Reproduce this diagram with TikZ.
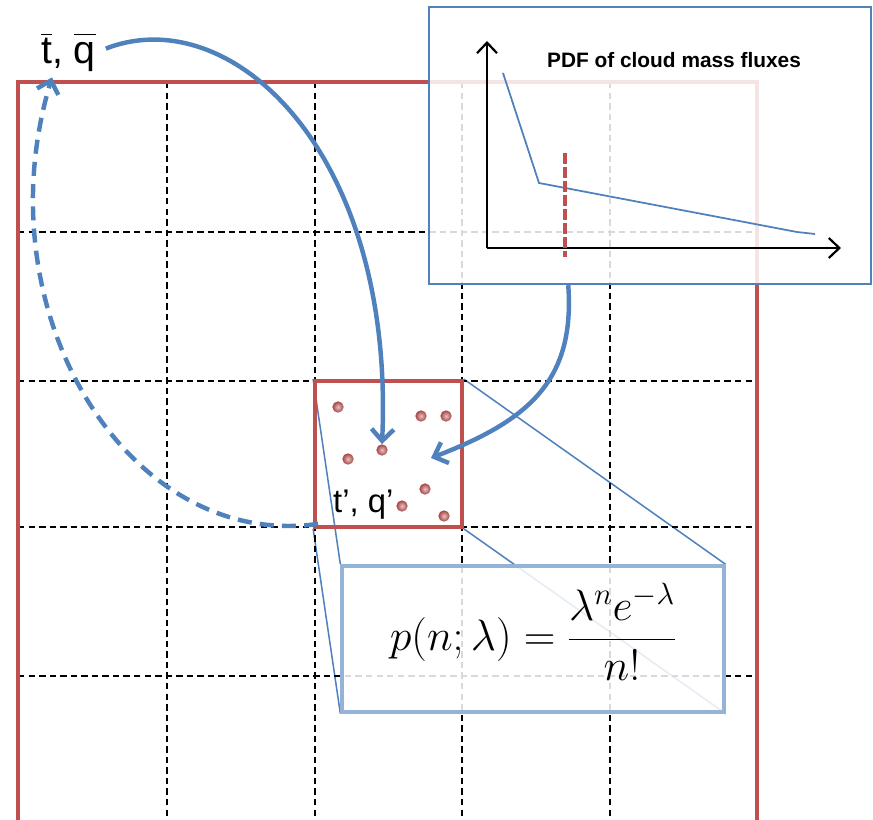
\RequirePackage{fix-cm}
\documentclass[tikz,border=0pt]{standalone}
\usepackage{amsmath}
\usepackage[no-math]{fontspec}
\setmainfont{Liberation Sans}
\usetikzlibrary{fit, calc, arrows.meta, backgrounds}
\definecolor{officeblue}{HTML}{4F81BD}
\definecolor{officered}{HTML}{C0504D}
\definecolor{paleblue}{HTML}{95B3D7}
\newcommand{\avg}[1]{\(\overline{\mbox{#1}\vphantom{\mbox{t}}}\)}

\begin{document}
\begin{tikzpicture}[x=0.03cm, y=-0.03cm,
        gridline/.style={draw=black, line width=1.9pt, dash pattern=on 5.5pt off 3.5pt},
        frame/.style={draw=officered, line width=3.4pt},
        cellbox/.style={draw=officered, line width=3.2pt, inner sep=0pt},
        drop/.style={circle, inner sep=0pt, minimum size=0.34cm, inner color=officered!35!white, outer color=officered!85!black},
        zoomline/.style={draw=officeblue, line width=1.3pt},
        panel/.style={draw=officeblue, line width=2pt, fill=white, fill opacity=0.85, inner sep=0pt},
        eqbox/.style={draw=paleblue, line width=2.8pt, fill=white, fill opacity=0.85, inner sep=0pt},
        axis/.style={draw=black, line width=1.9pt, -{Straight Barb[length=9pt, width=17pt]}},
        flow/.style={draw=officeblue, line width=3.8pt, -{Straight Barb[length=10pt, width=19pt]}},
        bigtext/.style={font=\fontsize{33.5}{40}\selectfont, inner sep=0pt}
    ]
    \useasboundingbox (0,0) rectangle (873,820);
    % model grid
    \foreach \x in {167,315,462,610}
        \draw[gridline] (\x,82) -- (\x,820);
    \foreach \y in {232,381,527,676}
        \draw[gridline] (18,\y) -- (757,\y);
    \draw[frame] (18,822) -- (18,82) -- (757,82) -- (757,822);

    % one grid cell with its clouds
    \node[cellbox, fit={(315,381) (462,527)}] (cell) {};
    \foreach \n/\x/\y in {1/338/407, 2/421/416, 3/446/416, 4/382/450, 5/348/459, 6/425/489, 7/402/506, 8/444/516}
        \node[drop] (d\n) at (\x,\y) {};
    \node[bigtext, font=\fontsize{28}{34}\selectfont, anchor=base west] (pertlbl) at (333,512) {t’, q’};

    % zoomed cell: Poisson distribution
    \node[eqbox, fit={(342,566) (724,712)}] (poisson) {};
    \begin{scope}[on background layer]
        \draw[zoomline] (cell.north west) -- (poisson.north west);
        \draw[zoomline] (cell.south west) -- (poisson.south west);
        \draw[zoomline] (cell.north east) -- (poisson.north east);
        \draw[zoomline] (cell.south east) -- (poisson.south east);
    \end{scope}
    \node[font=\fontsize{37.5}{45}\selectfont] (formula) at (533,632) {$p(n;\lambda)=\dfrac{\lambda^{n}e^{-\lambda}}{n!}$};

    % PDF panel
    \node[panel, fit={(429,7) (871,284)}] (pdfbox) {};
    \coordinate (o) at (487,248);
    \draw[axis] (o) -- (487,41);
    \draw[axis] (o) -- (841,248);
    \draw[officeblue, line width=1.5pt] (503,73) -- (539,183) -- (797,232) -- (815,234);
    \draw[officered, line width=3.4pt, dash pattern=on 9pt off 3pt] (565,153) -- (565,257);
    \node[font=\bfseries\fontsize{17.8}{21}\selectfont, anchor=base] (pdftitle) at (674,68) {PDF of cloud mass fluxes};

    % mean state and the flows
    \node[bigtext, anchor=base west] (meanlbl) at (41,64) {\avg{t}, \avg{q}};
    \coordinate (aim) at (431,458);
    \draw[flow, shorten <=9pt] (meanlbl.east) .. controls (230,0) and (395,150) .. (d4.north);
    \draw[flow] ($(pdfbox.south west)!0.316!(pdfbox.south east)$) .. controls (575,380) and (530,420) .. (aim);
    \draw[flow, dash pattern=on 12pt off 7pt] ([shift={(5,-5)}]cell.south west) .. controls (128,551) and (-19,312) .. ([shift={(11,5)}]meanlbl.south west);
\end{tikzpicture}
\end{document}
